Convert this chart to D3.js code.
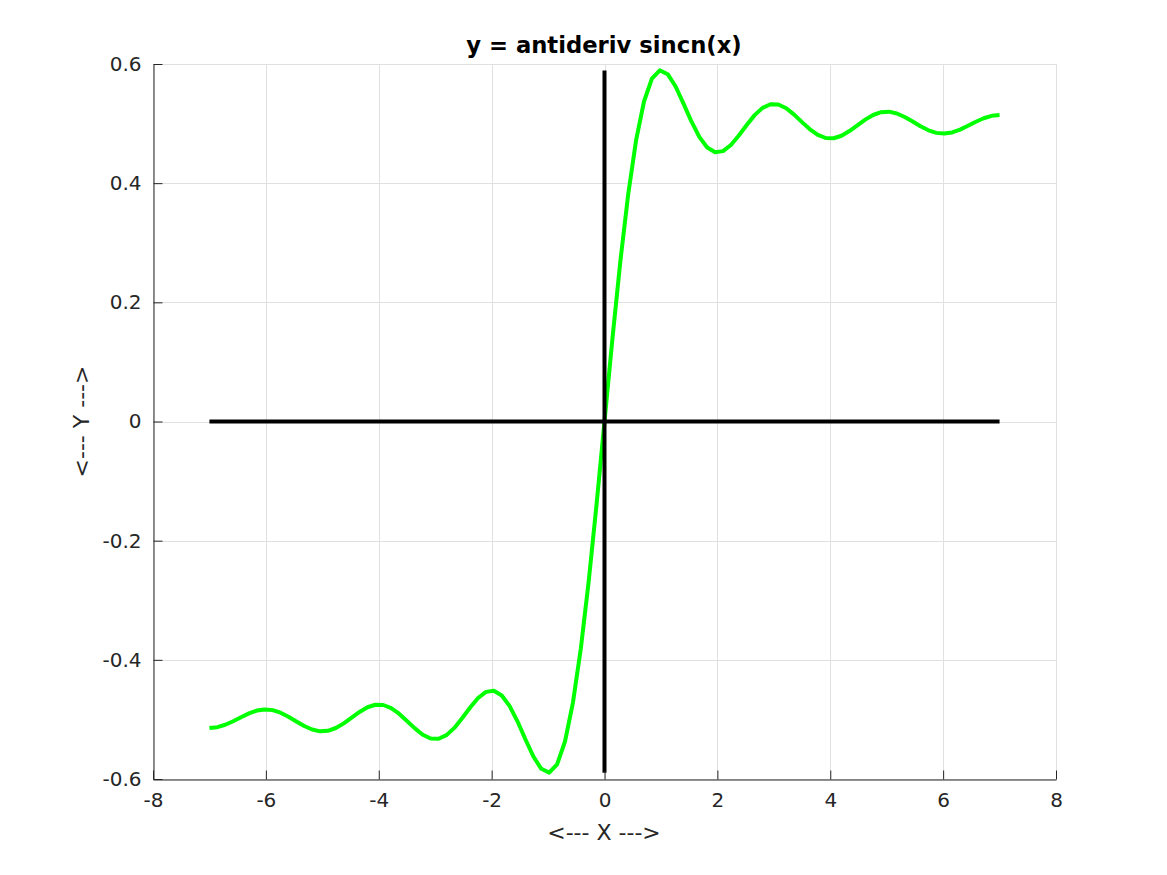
<!DOCTYPE html>
<html>
<head>
<meta charset="utf-8">
<script src="https://cdn.jsdelivr.net/npm/d3@7"></script>
<style>
  html, body { margin: 0; padding: 0; background: #ffffff; }
  svg { display: block; }
  text { font-family: "DejaVu Sans", sans-serif; }
</style>
</head>
<body>
<svg id="chart" width="1167" height="875"></svg>
<script>
// ---- data ----
const titleText = "y = antideriv sincn(x)";
const xLabelText = "<--- X --->";
const yLabelText = "<--- Y --->";

const xTicks = [-8, -6, -4, -2, 0, 2, 4, 6, 8];
const xTickLabels = ["-8", "-6", "-4", "-2", "0", "2", "4", "6", "8"];
const yTicks = [-0.6, -0.4, -0.2, 0, 0.2, 0.4, 0.6];
const yTickLabels = ["-0.6", "-0.4", "-0.2", "0", "0.2", "0.4", "0.6"];

const xValues = [
  -7.00, -6.86, -6.72, -6.58, -6.44, -6.30, -6.16, -6.02, -5.88, -5.74,
  -5.60, -5.46, -5.32, -5.18, -5.04, -4.90, -4.76, -4.62, -4.48, -4.34,
  -4.20, -4.06, -3.92, -3.78, -3.64, -3.50, -3.36, -3.22, -3.08, -2.94,
  -2.80, -2.66, -2.52, -2.38, -2.24, -2.10, -1.96, -1.82, -1.68, -1.54,
  -1.40, -1.26, -1.12, -0.98, -0.84, -0.70, -0.56, -0.42, -0.28, -0.14,
   0.00,
   0.14,  0.28,  0.42,  0.56,  0.70,  0.84,  0.98,  1.12,  1.26,  1.40,
   1.54,  1.68,  1.82,  1.96,  2.10,  2.24,  2.38,  2.52,  2.66,  2.80,
   2.94,  3.08,  3.22,  3.36,  3.50,  3.64,  3.78,  3.92,  4.06,  4.20,
   4.34,  4.48,  4.62,  4.76,  4.90,  5.04,  5.18,  5.32,  5.46,  5.60,
   5.74,  5.88,  6.02,  6.16,  6.30,  6.44,  6.58,  6.72,  6.86,  7.00
];

const yValues = [
  -0.5144, -0.5130, -0.5090, -0.5031, -0.4963, -0.4899, -0.4852, -0.4832, -0.4844, -0.4887,
  -0.4954, -0.5034, -0.5111, -0.5170, -0.5200, -0.5191, -0.5144, -0.5066, -0.4970, -0.4874,
  -0.4796, -0.4754, -0.4758, -0.4810, -0.4904, -0.5025, -0.5151, -0.5257, -0.5321, -0.5325,
  -0.5264, -0.5142, -0.4977, -0.4799, -0.4641, -0.4538, -0.4518, -0.4598, -0.4777, -0.5036,
  -0.5336, -0.5622, -0.5829, -0.5893, -0.5754, -0.5371, -0.4722, -0.3814, -0.2682, -0.1385,
   0.0000,
   0.1385,  0.2682,  0.3814,  0.4722,  0.5371,  0.5754,  0.5893,  0.5829,  0.5622,  0.5336,
   0.5036,  0.4777,  0.4598,  0.4518,  0.4538,  0.4641,  0.4799,  0.4977,  0.5142,  0.5264,
   0.5325,  0.5321,  0.5257,  0.5151,  0.5025,  0.4904,  0.4810,  0.4758,  0.4754,  0.4796,
   0.4874,  0.4970,  0.5066,  0.5144,  0.5191,  0.5200,  0.5170,  0.5111,  0.5034,  0.4954,
   0.4887,  0.4844,  0.4832,  0.4852,  0.4899,  0.4963,  0.5031,  0.5090,  0.5130,  0.5144
];

// reference lines: horizontal y=0 across the x data range, vertical x=0 across the y data range
const hLineX = [-7, 7];
const hLineY = [0, 0];
const vLineX = [0, 0];
const vLineY = [-0.5893, 0.5893];

// ---- layout ----
const W = 1167, H = 875;
const plot = { left: 153, right: 1056, top: 64, bottom: 779 };
const axisColor = "#262626";
const gridColor = "#e0e0e0";
const FONT = '"DejaVu Sans", sans-serif';

const svg = d3.select("#chart");
svg.append("rect").attr("width", W).attr("height", H).attr("fill", "#ffffff");

const x = d3.scaleLinear().domain([-8, 8]).range([plot.left, plot.right]);
const y = d3.scaleLinear().domain([-0.6, 0.6]).range([plot.bottom, plot.top]);

// grid
const grid = svg.append("g");
grid.selectAll("line.gx").data(xTicks).enter().append("line")
  .attr("x1", d => Math.round(x(d)) + 0.5).attr("x2", d => Math.round(x(d)) + 0.5)
  .attr("y1", plot.top).attr("y2", plot.bottom)
  .attr("stroke", gridColor).attr("stroke-width", 1);
grid.selectAll("line.gy").data(yTicks).enter().append("line")
  .attr("y1", d => Math.round(y(d)) + 0.5).attr("y2", d => Math.round(y(d)) + 0.5)
  .attr("x1", plot.left).attr("x2", plot.right)
  .attr("stroke", gridColor).attr("stroke-width", 1);

// data curve
const line = d3.line().x(d => x(d[0])).y(d => y(d[1]));
svg.append("path")
  .datum(xValues.map((v, i) => [v, yValues[i]]))
  .attr("d", line)
  .attr("fill", "none")
  .attr("stroke", "#00ff00")
  .attr("stroke-width", 4)
  .attr("stroke-linejoin", "round");

// black reference lines
svg.append("path")
  .datum(hLineX.map((v, i) => [v, hLineY[i]]))
  .attr("d", line).attr("fill", "none").attr("stroke", "#000000").attr("stroke-width", 4);
svg.append("path")
  .datum(vLineX.map((v, i) => [v, vLineY[i]]))
  .attr("d", line).attr("fill", "none").attr("stroke", "#000000").attr("stroke-width", 4);

// axes
const xAxis = d3.axisBottom(x).tickValues(xTicks).tickSizeInner(-9).tickSizeOuter(0).tickPadding(13)
  .tickFormat((d, i) => xTickLabels[i]);
const gx = svg.append("g").attr("transform", `translate(0,${plot.bottom + 0.5})`).call(xAxis);
gx.attr("font-size", null).attr("font-family", null);
gx.select(".domain").attr("stroke", axisColor);
gx.selectAll(".tick line").attr("stroke", axisColor);
gx.selectAll(".tick text").attr("fill", axisColor).style("font-size", "20px").style("font-family", FONT);

const yAxis = d3.axisLeft(y).tickValues(yTicks).tickSizeInner(-9).tickSizeOuter(0).tickPadding(12)
  .tickFormat((d, i) => yTickLabels[i]);
const gy = svg.append("g").attr("transform", `translate(${plot.left + 0.5},0)`).call(yAxis);
gy.attr("font-size", null).attr("font-family", null);
gy.select(".domain").attr("stroke", axisColor);
gy.selectAll(".tick line").attr("stroke", axisColor);
gy.selectAll(".tick text").attr("fill", axisColor).style("font-size", "20px").style("font-family", FONT);

// title
svg.append("text")
  .attr("x", 604).attr("y", 53)
  .attr("text-anchor", "middle")
  .style("font-size", "22.7px").style("font-weight", "bold").style("font-family", FONT)
  .attr("fill", "#000000")
  .text(titleText);

// axis labels
svg.append("text")
  .attr("x", 604).attr("y", 840)
  .attr("text-anchor", "middle")
  .style("font-size", "22px").style("font-family", FONT).attr("fill", axisColor)
  .text(xLabelText);

svg.append("text")
  .attr("transform", `translate(89,${(plot.top + plot.bottom) / 2}) rotate(-90)`)
  .attr("text-anchor", "middle")
  .style("font-size", "22px").style("font-family", FONT).attr("fill", axisColor)
  .text(yLabelText);
</script>
</body>
</html>
